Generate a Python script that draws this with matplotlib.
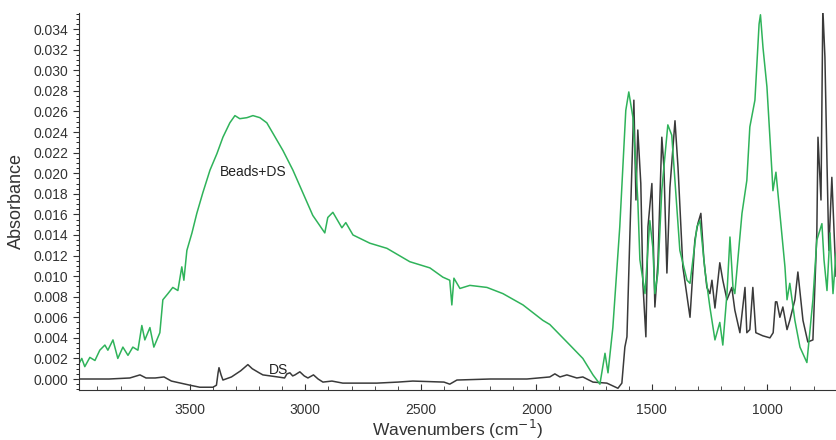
import matplotlib.pyplot as plt
from matplotlib.ticker import MultipleLocator
import numpy as np

plt.rcParams['font.family'] = ['Liberation Sans', 'DejaVu Sans']

# Beads+DS spectrum (green), wavenumber / absorbance
beads_wn = [3980, 3968, 3955, 3933, 3911, 3890, 3868, 3855, 3833, 3812, 3790, 3768,
            3747, 3725, 3708, 3695, 3673, 3656, 3630, 3617, 3595, 3574, 3552, 3535,
            3526, 3513, 3491, 3470, 3444, 3413, 3383, 3357, 3327, 3305, 3284, 3253,
            3227, 3197, 3167, 3141, 3097, 3054, 3011, 2968, 2916, 2903, 2881, 2842,
            2825, 2794, 2721, 2647, 2548, 2461, 2405, 2375, 2366, 2357, 2331, 2288,
            2214, 2145, 2058, 1972, 1942, 1855, 1799, 1755, 1725, 1703, 1690, 1669,
            1639, 1613, 1600, 1582, 1561, 1552, 1530, 1509, 1496, 1487, 1474, 1457,
            1431, 1414, 1379, 1348, 1335, 1305, 1292, 1270, 1249, 1227, 1206, 1193,
            1175, 1162, 1149, 1141, 1110, 1089, 1076, 1054, 1036, 1030, 1019, 1002,
            980, 976, 963, 946, 924, 915, 903, 881, 859, 829, 803, 786,
            764, 755, 742, 729, 716, 703]
beads_abs = [0.0015, 0.0020, 0.0012, 0.0021, 0.0018, 0.0028, 0.0033, 0.0028, 0.0038, 0.0020, 0.0031, 0.0023,
             0.0031, 0.0028, 0.0052, 0.0038, 0.0050, 0.0031, 0.0045, 0.0077, 0.0083, 0.0089, 0.0086, 0.0109,
             0.0096, 0.0125, 0.0142, 0.0161, 0.0181, 0.0203, 0.0219, 0.0235, 0.0249, 0.0256, 0.0253, 0.0254,
             0.0256, 0.0254, 0.0249, 0.0239, 0.0222, 0.0203, 0.0181, 0.0159, 0.0142, 0.0157, 0.0162, 0.0147,
             0.0152, 0.0140, 0.0132, 0.0127, 0.0114, 0.0108, 0.0099, 0.0096, 0.0072, 0.0098, 0.0088, 0.0091,
             0.0089, 0.0083, 0.0072, 0.0057, 0.0053, 0.0033, 0.0020, 0.0004, -0.0005, 0.0025, 0.0006, 0.0050,
             0.0148, 0.0261, 0.0279, 0.0254, 0.0174, 0.0116, 0.0083, 0.0154, 0.0128, 0.0083, 0.0103, 0.0184,
             0.0247, 0.0237, 0.0125, 0.0096, 0.0093, 0.0148, 0.0154, 0.0105, 0.0070, 0.0038, 0.0055, 0.0033,
             0.0083, 0.0138, 0.0089, 0.0083, 0.0161, 0.0193, 0.0245, 0.0271, 0.0345, 0.0354, 0.0322, 0.0284,
             0.0200, 0.0183, 0.0201, 0.0161, 0.0109, 0.0077, 0.0093, 0.0057, 0.0031, 0.0016, 0.0077, 0.0135,
             0.0151, 0.0116, 0.0086, 0.0142, 0.0083, 0.0122]

# DS spectrum (black)
ds_wn = [3980, 3850, 3760, 3716, 3690, 3650, 3612, 3580, 3500, 3457, 3400, 3385,
         3378, 3374, 3365, 3357, 3320, 3280, 3249, 3230, 3200, 3184, 3120, 3090,
         3080, 3067, 3055, 3045, 3024, 3005, 2989, 2965, 2945, 2924, 2885, 2838,
         2691, 2600, 2535, 2400, 2375, 2344, 2200, 2041, 1942, 1920, 1898, 1868,
         1825, 1799, 1755, 1695, 1647, 1630, 1617, 1608, 1595, 1582, 1578, 1569,
         1561, 1548, 1539, 1526, 1517, 1500, 1487, 1474, 1457, 1448, 1435, 1422,
         1400, 1387, 1366, 1335, 1314, 1301, 1288, 1275, 1262, 1249, 1240, 1227,
         1206, 1193, 1175, 1154, 1141, 1119, 1097, 1089, 1076, 1063, 1050, 1020,
         989, 975, 965, 959, 946, 933, 915, 903, 881, 868, 846, 825,
         803, 786, 781, 768, 760, 751, 742, 734, 721, 708, 703]
ds_abs = [0.0000, 0.0000, 0.0001, 0.0004, 0.0001, 0.0001, 0.0002, -0.0002, -0.0006, -0.0008, -0.0008, -0.0006,
          0.0006, 0.0011, 0.0004, -0.0001, 0.0002, 0.0008, 0.0014, 0.0010, 0.0006, 0.0004, 0.0002, 0.0001,
          0.0005, 0.0006, 0.0003, 0.0004, 0.0007, 0.0003, 0.0001, 0.0004, 0.0000, -0.0003, -0.0002, -0.0004,
          -0.0004, -0.0003, -0.0002, -0.0003, -0.0005, -0.0001, 0.0000, 0.0000, 0.0002, 0.0005, 0.0002, 0.0004,
          0.0001, 0.0002, -0.0003, -0.0004, -0.0009, -0.0004, 0.0031, 0.0041, 0.0142, 0.0239, 0.0271, 0.0174,
          0.0242, 0.0190, 0.0093, 0.0041, 0.0148, 0.0190, 0.0070, 0.0113, 0.0235, 0.0206, 0.0103, 0.0186,
          0.0251, 0.0206, 0.0109, 0.0060, 0.0135, 0.0151, 0.0161, 0.0116, 0.0089, 0.0083, 0.0096, 0.0069,
          0.0113, 0.0096, 0.0077, 0.0089, 0.0067, 0.0045, 0.0089, 0.0045, 0.0048, 0.0089, 0.0045, 0.0042,
          0.0040, 0.0045, 0.0075, 0.0075, 0.0060, 0.0070, 0.0048, 0.0057, 0.0077, 0.0104, 0.0057, 0.0036,
          0.0038, 0.0142, 0.0235, 0.0174, 0.0360, 0.0313, 0.0210, 0.0125, 0.0196, 0.0125, 0.0100]

fig = plt.figure(figsize=(8.36, 4.4), dpi=100)
ax = fig.add_axes([0.0945, 0.1136, 0.9055, 0.8575])

ax.plot(ds_wn, ds_abs, color='#3a3a3a', lw=1.1)
ax.plot(beads_wn, beads_abs, color='#2fb35a', lw=1.1)

ax.text(3227, 0.0201, 'Beads+DS', fontsize=10, ha='center', va='center', color='#222222')
ax.text(3160, 0.0009, 'DS', fontsize=10, ha='left', va='center', color='#222222')

ax.set_xlim(3980, 703)
ax.set_ylim(-0.00107, 0.0356)

ax.xaxis.set_minor_locator(MultipleLocator(100))
ax.yaxis.set_minor_locator(MultipleLocator(0.0005))
ax.set_yticks(np.arange(0, 0.0341, 0.002))
ax.set_xticks([3500, 3000, 2500, 2000, 1500, 1000])
ax.yaxis.set_major_formatter(plt.FormatStrFormatter('%.3f'))

ax.tick_params(axis='x', which='both', direction='in', labelsize=10, pad=9, colors='#333333')
ax.tick_params(axis='x', which='major', length=4)
ax.tick_params(axis='x', which='minor', length=3)
ax.tick_params(axis='y', which='major', direction='out', length=4, labelsize=10, colors='#333333')
ax.tick_params(axis='y', which='minor', direction='out', length=2)

for s in ['top', 'right']:
    ax.spines[s].set_visible(False)
for s in ['left', 'bottom']:
    ax.spines[s].set_color('#333333')

ax.set_ylabel('Absorbance', fontsize=13, color='#333333', labelpad=6)
ax.set_xlabel('Wavenumbers (cm$^{-1}$)', fontsize=12.5, color='#333333', labelpad=1)

fig.savefig('out.png', dpi=100)
